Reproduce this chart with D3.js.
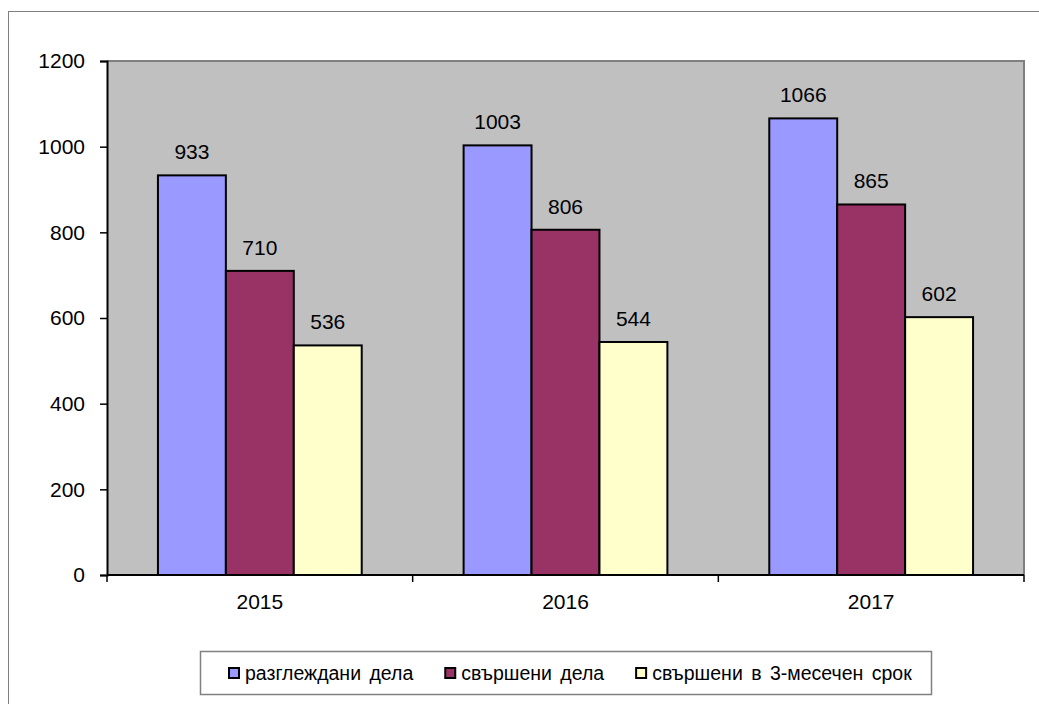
<!DOCTYPE html>
<html>
<head>
<meta charset="utf-8">
<script src="https://cdn.jsdelivr.net/npm/d3@7"></script>
<style>
  body { margin: 0; background: #fff; }
  text { font-family: "Liberation Sans", Arial, sans-serif; fill: #000; }
</style>
</head>
<body>
<svg id="chart" width="1039" height="704"></svg>
<script>
// data
var years = ["2015", "2016", "2017"];
var seriesNames = ["разглеждани дела", "свършени дела", "свършени в 3-месечен срок"];
var reviewed = [933, 1003, 1066];
var finished = [710, 806, 865];
var finished3m = [536, 544, 602];
var yTicks = [0, 200, 400, 600, 800, 1000, 1200];
var colors = ["#9999FF", "#993366", "#FFFFCC"];

var series = [reviewed, finished, finished3m];
var rows = [];
years.forEach(function (y, i) {
    series.forEach(function (s, j) {
        rows.push({ year: y, key: j, value: s[i] });
    });
});

var svg = d3.select("#chart");
var plot = { left: 107, right: 1024, top: 61, bottom: 575 };

// outer chart frame (runs off the right/bottom of the window)
svg.append("rect")
    .attr("x", 8.5).attr("y", 11.5)
    .attr("width", 1060).attr("height", 720)
    .attr("fill", "#fff").attr("stroke", "#808080").attr("stroke-width", 1);

var scX = d3.scaleBand()
    .domain(years)
    .range([plot.left, plot.right])
    .paddingInner(1 / 3).paddingOuter(1 / 6);
var scInner = d3.scaleBand()
    .domain([0, 1, 2])
    .range([0, scX.bandwidth()]);
var scY = d3.scaleLinear()
    .domain([0, 1200])
    .range([plot.bottom, plot.top]);

// plot area
svg.append("rect")
    .attr("x", plot.left).attr("y", plot.top)
    .attr("width", plot.right - plot.left).attr("height", plot.bottom - plot.top)
    .attr("fill", "#C0C0C0");
svg.append("path")
    .attr("d", "M" + plot.left + "," + plot.top + "H" + plot.right + "V" + plot.bottom)
    .attr("fill", "none").attr("stroke", "#808080").attr("stroke-width", 2);

// bars
svg.append("g").attr("id", "bars")
    .selectAll("rect")
    .data(rows).enter().append("rect")
    .attr("x", d => scX(d.year) + scInner(d.key))
    .attr("y", d => scY(d.value))
    .attr("width", scInner.bandwidth())
    .attr("height", d => scY(0) - scY(d.value))
    .attr("fill", d => colors[d.key])
    .attr("stroke", "#000").attr("stroke-width", 2);

// value labels
svg.append("g").attr("id", "labels")
    .selectAll("text")
    .data(rows).enter().append("text")
    .attr("x", d => scX(d.year) + scInner(d.key) + scInner.bandwidth() / 2)
    .attr("y", d => scY(d.value) - 16)
    .attr("text-anchor", "middle")
    .style("font-size", "21px")
    .text(d => d.value);

// y axis
var yAxis = d3.axisLeft(scY).tickValues(yTicks).tickFormat(d3.format("d"))
    .tickSize(7).tickPadding(15);
var gy = svg.append("g")
    .attr("transform", "translate(" + plot.left + ",0)")
    .call(yAxis);
gy.select(".domain").attr("stroke", "#000").attr("stroke-width", 2);
gy.selectAll(".tick line").attr("stroke", "#000").attr("stroke-width", 1.5);
gy.selectAll(".tick text")
    .attr("fill", "#000")
    .style("font-size", "21px")
    .style("font-family", "Liberation Sans, Arial, sans-serif");

// x axis: line, boundary ticks, labels
var bounds = d3.range(years.length + 1).map(i => plot.left + i * scX.step());
var gx = svg.append("g").attr("id", "xaxis");
gx.append("line")
    .attr("x1", plot.left).attr("x2", plot.right)
    .attr("y1", scY(0)).attr("y2", scY(0))
    .attr("stroke", "#000").attr("stroke-width", 2);
gx.selectAll(".btick")
    .data(bounds).enter().append("line")
    .attr("class", "btick")
    .attr("x1", d => d).attr("x2", d => d)
    .attr("y1", scY(0)).attr("y2", scY(0) + 7)
    .attr("stroke", "#000").attr("stroke-width", 1.5);
gx.selectAll("text")
    .data(years).enter().append("text")
    .attr("x", d => scX(d) + scX.bandwidth() / 2)
    .attr("y", 609)
    .attr("text-anchor", "middle")
    .style("font-size", "21px")
    .text(d => d);

// legend
var lg = svg.append("g").attr("id", "legend");
lg.append("rect")
    .attr("x", 200.5).attr("y", 651.5)
    .attr("width", 731).attr("height", 43)
    .attr("fill", "#fff").attr("stroke", "#808080").attr("stroke-width", 1.5);

var items = lg.selectAll(".item")
    .data(seriesNames).enter().append("g")
    .attr("class", "item");
items.append("rect")
    .attr("width", 10).attr("height", 10)
    .attr("y", 668)
    .attr("fill", (d, i) => colors[i])
    .attr("stroke", "#000").attr("stroke-width", 2);
items.append("text")
    .attr("y", 680)
    .style("font-size", "19.5px")
    .style("word-spacing", "3px")
    .text(d => d);

// lay legend items out left to right from their text widths
var xPos = 229;
items.each(function () {
    var g = d3.select(this);
    g.select("rect").attr("x", xPos);
    g.select("text").attr("x", xPos + 16);
    xPos += 16 + g.select("text").node().getComputedTextLength() + 32;
});
</script>
</body>
</html>
